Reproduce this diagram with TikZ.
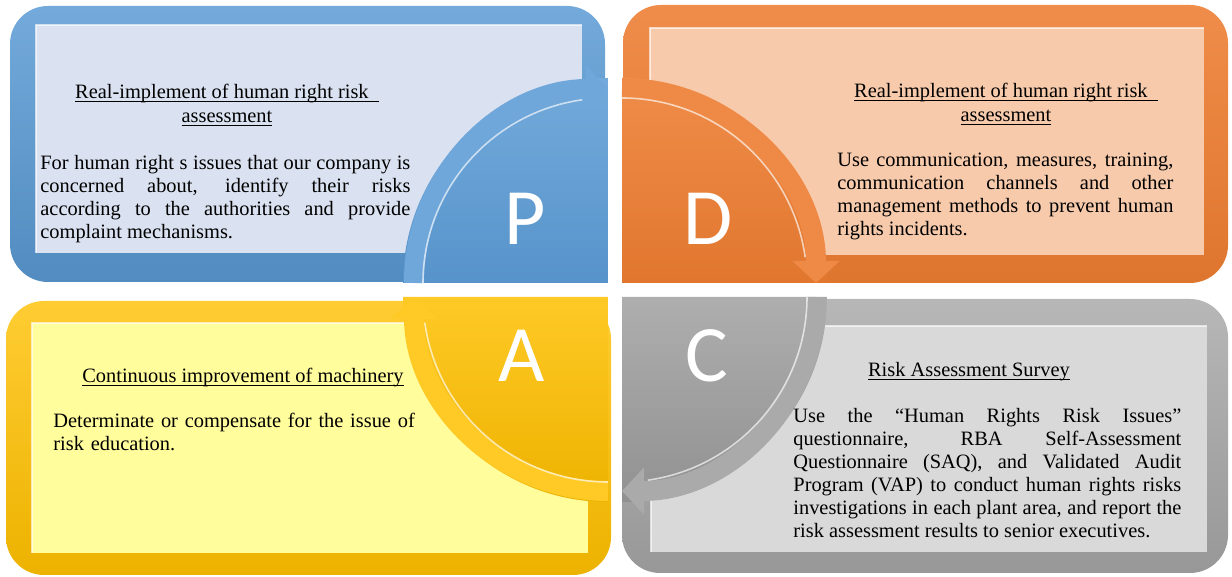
\documentclass[tikz,border=0pt]{standalone}
\usepackage{amsmath}
\usepackage{fontspec}
\setmainfont{Liberation Serif}
\newfontfamily\ltrfont{Carlito}
\usetikzlibrary{arrows.meta}
\definecolor{pblue}{HTML}{5B9BD5}
\definecolor{ppanel}{HTML}{DAE1F0}
\definecolor{dorange}{HTML}{ED7D31}
\definecolor{dpanel}{HTML}{F7CAAB}
\definecolor{ayellow}{HTML}{FFC000}
\definecolor{apanel}{HTML}{FFFD9C}
\definecolor{cgray}{HTML}{A5A5A5}
\definecolor{cpanel}{HTML}{D9D9D9}
\newcommand{\ttlu}[1]{\underline{\smash[b]{#1}}}
\tolerance=9999
\hbadness=10000

\begin{document}
\begin{tikzpicture}[x=0.5pt,y=0.5pt,
  rim/.style={rounded corners=19pt},
  ttl/.style={inner sep=0pt,align=center,font=\fontsize{10.2}{12}\selectfont},
  txt/.style={inner sep=0pt,align=justify,font=\fontsize{10.2}{11.5}\selectfont},
  ltr/.style={inner sep=0pt,text=white,font=\ltrfont\fontsize{40}{40}\selectfont},
  band/.style={line width=10pt,-{Triangle[width=23pt,length=11pt]}},
  shine/.style={white,opacity=0.65,line width=0.8pt}]
\useasboundingbox (0,0) rectangle (1232,577);

% frames
\shade[rim,top color=pblue!85!white,bottom color=pblue!90!black] (10,295) rectangle (605,571);
\shade[rim,top color=dorange!88!white,bottom color=dorange!94!black] (623,294) rectangle (1228,572);
\shade[rim,top color=ayellow!80!white,bottom color=ayellow!93!black] (6,2) rectangle (611,276);
\shade[rim,top color=cgray!80!white,bottom color=cgray!92!black] (622,4) rectangle (1228,278);

% panels
\fill[ppanel] (36,324) rectangle (582,552);
\fill[dpanel] (650,322) rectangle (1204,549);
\fill[apanel] (32,24) rectangle (588,254);
\fill[cpanel] (651,25) rectangle (1207,251);
\draw[shine] (36,324) -- (36,552) -- (582,552);
\draw[shine] (650,322) -- (650,549) -- (1204,549);
\draw[shine] (32,24) -- (32,254) -- (588,254);
\draw[shine] (651,25) -- (651,251) -- (1207,251);

% quarter sectors
\shade[top color=pblue!85!white,bottom color=pblue!95!black]
  (608,294) -- (403,294) arc[start angle=180,end angle=90,radius=205] -- cycle;
\shade[top color=dorange!88!white,bottom color=dorange!95!black]
  (622,294) -- (622,499) arc[start angle=90,end angle=0,radius=205] -- cycle;
\shade[top color=cgray!90!white,bottom color=cgray!88!black]
  (622,280) -- (827,280) arc[start angle=0,end angle=-90,radius=205] -- cycle;
\shade[top color=ayellow!85!white,bottom color=ayellow!93!black]
  (608,280) -- (608,75) arc[start angle=270,end angle=180,radius=205] -- cycle;

% cycle arrows
\draw[band,pblue!88!white] (414,294) arc[start angle=180,end angle=90,radius=194];
\draw[band,dorange!90!white] (622,488) arc[start angle=90,end angle=0,radius=194];
\draw[band,cgray!94!white] (816,280) arc[start angle=0,end angle=-90,radius=194];
\draw[band,ayellow!85!white] (608,86) arc[start angle=270,end angle=180,radius=194];
\draw[shine] (423,294) arc[start angle=180,end angle=98,radius=185];
\draw[shine] (622,479) arc[start angle=90,end angle=8,radius=185];
\draw[shine] (807,280) arc[start angle=0,end angle=-82,radius=185];
\draw[shine] (608,95) arc[start angle=270,end angle=188,radius=185];

% letters
\node[ltr,anchor=base] (pltr) at (525,332) {P};
\node[ltr,anchor=base] (dltr) at (708,332) {D};
\node[ltr,anchor=base] (altr) at (522,195) {A};
\node[ltr,anchor=base] (cltr) at (707,195) {C};

% texts
\node[ttl,anchor=base] (pttl) at (227,454)
  {\ttlu{Real-implement of human right risk\ \ }\\ \ttlu{assessment}};
\node[txt,anchor=base west,text width=185pt] (pbody) at (40,407)
  {For human right s issues that our company is\linebreak
   concerned about, identify their risks\linebreak
   according to the authorities and provide\linebreak
   complaint mechanisms.};

\node[ttl,anchor=base] (dttl) at (1006,455)
  {\ttlu{Real-implement of human right risk\ \ }\\ \ttlu{assessment}};
\node[txt,anchor=base west,text width=168pt] (dbody) at (837,410)
  {Use communication, measures, training,\linebreak
   communication channels and other\linebreak
   management methods to prevent human\linebreak
   rights incidents.};

\node[ttl,anchor=base] (attl) at (243,194) {\ttlu{Continuous improvement of machinery}};
\node[txt,anchor=base west,align=left,text width=185pt] (abody) at (53,149)
  {Determinate or compensate for the issue of\\ risk education.};

\node[ttl,anchor=base] (cttl) at (969,200) {\ttlu{Risk Assessment Survey}};
\node[txt,anchor=base west,text width=194pt] (cbody) at (793,154)
  {Use the “Human Rights Risk Issues”\linebreak
   questionnaire, RBA Self-Assessment\linebreak
   Questionnaire (SAQ), and Validated Audit\linebreak
   Program (VAP) to conduct human rights risks\linebreak
   investigations in each plant area, and report the\linebreak
   risk assessment results to senior executives.};
\end{tikzpicture}
\end{document}
